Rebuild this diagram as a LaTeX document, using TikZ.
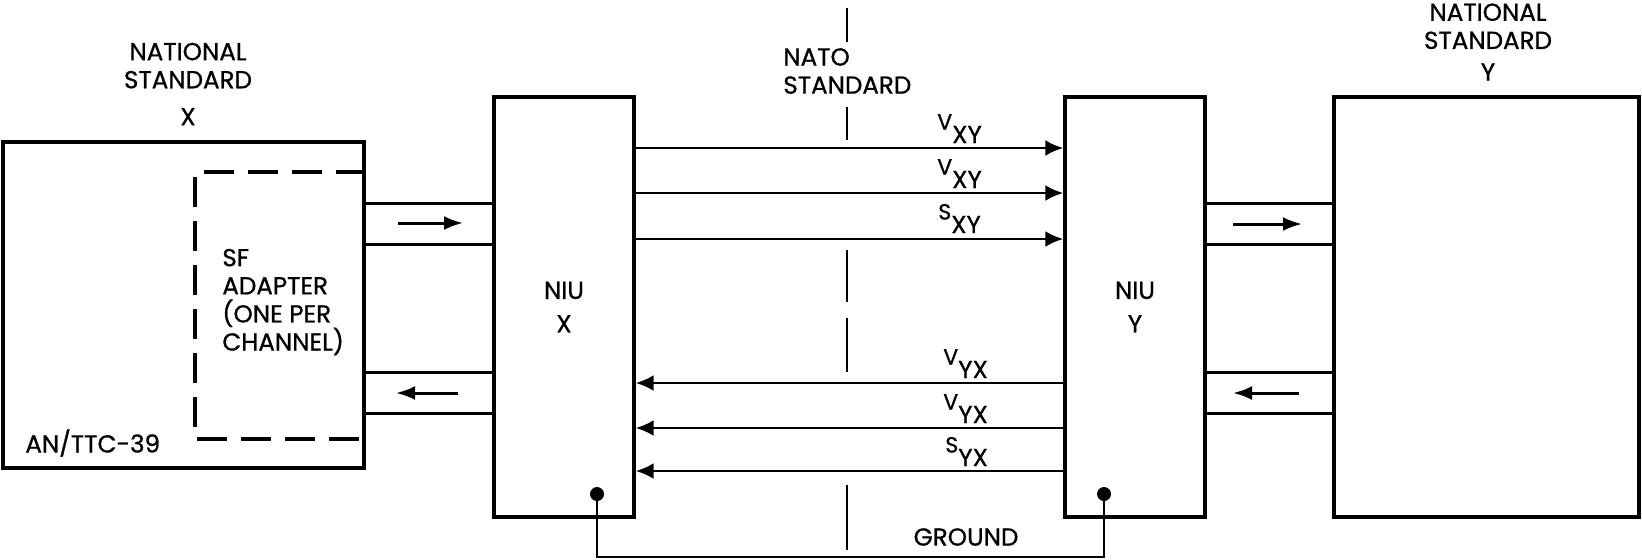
\documentclass[tikz,border=0pt]{standalone}
\usepackage{fontspec}
\setmainfont{Poppins}[FakeBold=0.8,AutoFakeBold=0.8]
\usepackage{tikz}
\usetikzlibrary{arrows.meta,positioning,calc}
\definecolor{ink}{HTML}{000000}
\tikzset{
  unit/.style={draw=ink, line width=2pt, inner sep=0pt, align=center,
               font=\bfseries\fontsize{14}{19}\selectfont},
  lbl/.style={inner sep=0pt, align=center, font=\bfseries\fontsize{14}{16}\selectfont, text=ink},
  sigline/.style={-{Latex[length=3.6mm,width=3.2mm]}, line width=1.4pt, draw=ink},
  chanline/.style={line width=1.7pt, draw=ink},
  flow/.style={-{Latex[length=3.8mm,width=2.8mm]}, line width=1.7pt, draw=ink},
  adapt/.style={draw=ink, line width=2.2pt, dash pattern=on 0.6cm off 0.28cm},
  divide/.style={draw=ink, line width=1.4pt},
  gnd/.style={draw=ink, line width=1.3pt},
  tap/.style={circle, fill=ink, inner sep=0pt, minimum size=0.28cm}
}
\newcommand{\chlab}[2]{{\fontsize{12.5}{12.5}\selectfont\raisebox{0.27cm}{#1}}#2}

\begin{document}
\begin{tikzpicture}[x=0.02cm,y=-0.02cm,>=Latex]
  \useasboundingbox (0,0) rectangle (1642,559);
  \node[unit,minimum width=7.22cm,minimum height=6.52cm] (natx) at (183.5,305) {};
  \node[unit,minimum width=2.8cm,minimum height=8.4cm] (niux) at (564,307) {NIU\\X};
  \node[unit,minimum width=2.8cm,minimum height=8.4cm] (niuy) at (1135,307) {NIU\\Y};
  \node[unit,minimum width=6.1cm,minimum height=8.4cm] (naty) at (1486.5,307) {};

  \node[lbl] (natxlab) at (188,84) {NATIONAL\\STANDARD\\[5pt]X};
  \node[lbl] (natylab) at (1488,42) {NATIONAL\\STANDARD\\[2pt]Y};
  \node[lbl,align=left,anchor=west] (natolab) at (783,71) {NATO\\STANDARD};
  \node[lbl,align=left,anchor=west] (sflab) at (222,302) {SF\\ADAPTER\\(ONE PER\\CHANNEL)};
  \node[lbl,anchor=west] (ttc) at (25,443) {AN/TTC-39};
  \node[lbl] (gndlab) at (966,537) {GROUND};

  \coordinate (adtop) at (195,172);
  \coordinate (adbot) at (195,439);
  \draw[adapt] (natx.east |- adtop) -- (adtop) -- (adbot) -- (natx.east |- adbot);

  \foreach \y in {203,244,372,413} {
    \draw[chanline] (natx.east |- 0,\y) -- (niux.west |- 0,\y);
    \draw[chanline] (niuy.east |- 0,\y) -- (naty.west |- 0,\y);
  }
  \draw[flow] (398,223) -- (463,223);
  \draw[flow] (458,393) -- (396,393);
  \draw[flow] (1233,224) -- (1302,224);
  \draw[flow] (1299,393) -- (1233,393);

  \foreach \y in {148,193,239}
    \draw[sigline] (niux.east |- 0,\y) -- (niuy.west |- 0,\y);
  \foreach \y in {383,428,471}
    \draw[sigline] (niuy.west |- 0,\y) -- (niux.east |- 0,\y);

  \node[lbl,anchor=base west] (vxya) at (937,143) {\chlab{V}{XY}};
  \node[lbl,anchor=base west] (vxyb) at (937,188) {\chlab{V}{XY}};
  \node[lbl,anchor=base west] (sxy) at (938,233) {\chlab{S}{XY}};
  \node[lbl,anchor=base west] (vyxa) at (943,378) {\chlab{V}{YX}};
  \node[lbl,anchor=base west] (vyxb) at (943,423) {\chlab{V}{YX}};
  \node[lbl,anchor=base west] (syx) at (945,466) {\chlab{S}{YX}};

  \foreach \a/\b in {8/42,107/140,250/302,318/372,485/550}
    \draw[divide] (847,\a) -- (847,\b);

  \node[tap] (tapx) at (597,494) {};
  \node[tap] (tapy) at (1104,494) {};
  \coordinate (gndrun) at (850,557);
  \draw[gnd] (tapx) |- (gndrun) -| (tapy);
\end{tikzpicture}
\end{document}
